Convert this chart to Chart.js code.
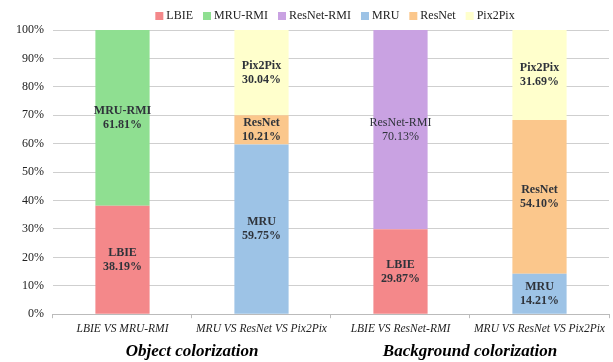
<!DOCTYPE html>
<html>
<head>
<meta charset="utf-8">
<script src="https://cdn.jsdelivr.net/npm/chart.js@4.4.0/dist/chart.umd.min.js"></script>
<style>
  html, body { margin: 0; padding: 0; background: #fff; }
  #wrap { width: 613px; height: 362px; }
</style>
</head>
<body>
<div id="wrap"><canvas id="chart"></canvas></div>
<script>
// categories and group captions
const categories = ['LBIE VS MRU-RMI', 'MRU VS ResNet VS Pix2Pix', 'LBIE VS ResNet-RMI', 'MRU VS ResNet VS Pix2Pix'];
const groups = ['Object colorization', 'Background colorization'];

// percentages per method (0 = not in that comparison)
const lbie      = [38.19, 0, 29.87, 0];
const mruRmi    = [61.81, 0, 0, 0];
const resnetRmi = [0, 0, 70.13, 0];
const mru       = [0, 59.75, 0, 14.21];
const resnet    = [0, 10.21, 0, 54.10];
const pix2pix   = [0, 30.04, 0, 31.69];

const yTicks = [0, 10, 20, 30, 40, 50, 60, 70, 80, 90, 100];

const serif = '"Liberation Serif", "Times New Roman", serif';

function ds(label, data, color) {
  return { label: label, data: data, backgroundColor: color, borderWidth: 0 };
}

// value labels inside each segment
const barLabels = {
  id: 'barLabels',
  afterDatasetsDraw(chart) {
    const ctx = chart.ctx;
    ctx.save();
    ctx.textAlign = 'center';
    ctx.textBaseline = 'middle';
    ctx.fillStyle = '#2f333a';
    chart.data.datasets.forEach((d, i) => {
      const meta = chart.getDatasetMeta(i);
      meta.data.forEach((bar, j) => {
        const v = d.data[j];
        if (!v) return;
        const cy = (bar.y + bar.base) / 2;
        ctx.font = (d.label === 'ResNet-RMI' ? '' : 'bold ') + '12px ' + serif;
        ctx.fillText(d.label, bar.x, cy - 7);
        ctx.fillText(v.toFixed(2) + '%', bar.x, cy + 7);
      });
    });
    ctx.restore();
  }
};

// legend centred over the plot area (compact spacing)
const topLegend = {
  id: 'topLegend',
  afterDraw(chart) {
    const ctx = chart.ctx;
    const area = chart.chartArea;
    ctx.save();
    ctx.font = '12px ' + serif;
    ctx.textBaseline = 'middle';
    const items = chart.data.datasets.map(d => ({ label: d.label, color: d.backgroundColor, w: ctx.measureText(d.label).width }));
    const total = items.reduce((s, it) => s + 8 + 3 + it.w, 0) + 10 * (items.length - 1);
    let x = (area.left + area.right) / 2 + 4 - total / 2;
    const y = 16;
    items.forEach(it => {
      ctx.fillStyle = it.color;
      ctx.fillRect(x, y - 4, 8, 8);
      ctx.fillStyle = '#222';
      ctx.fillText(it.label, x + 11, y);
      x += 11 + it.w + 10;
    });
    ctx.restore();
  }
};

const groupLabels = {
  id: 'groupLabels',
  afterDraw(chart) {
    const ctx = chart.ctx;
    const x = chart.scales.x;
    ctx.save();
    ctx.textAlign = 'center';
    ctx.textBaseline = 'middle';
    ctx.fillStyle = '#000';
    ctx.font = 'italic bold 17px ' + serif;
    groups.forEach((g, k) => {
      const cx = (x.getPixelForValue(k * 2) + x.getPixelForValue(k * 2 + 1)) / 2;
      ctx.fillText(g, cx, 352);
    });
    ctx.restore();
  }
};

new Chart(document.getElementById('chart').getContext('2d'), {
  type: 'bar',
  data: {
    labels: categories,
    datasets: [
      ds('LBIE', lbie, '#f4888a'),
      ds('MRU-RMI', mruRmi, '#8fdf91'),
      ds('ResNet-RMI', resnetRmi, '#c9a2e2'),
      ds('MRU', mru, '#9dc3e6'),
      ds('ResNet', resnet, '#fbc78c'),
      ds('Pix2Pix', pix2pix, '#ffffcc')
    ]
  },
  options: {
    responsive: true,
    maintainAspectRatio: false,
    animation: false,
    datasets: { bar: { categoryPercentage: 1, barPercentage: 0.39 } },
    layout: { padding: { left: 7, right: 4, top: 30, bottom: 22 } },
    plugins: {
      legend: { display: false },
      tooltip: { enabled: false }
    },
    scales: {
      x: {
        stacked: true,
        grid: { display: true, drawOnChartArea: false, offset: true, tickLength: 4, color: '#bbb' },
        border: { color: '#bbb' },
        ticks: { color: '#222', font: { family: serif, size: 11.5, style: 'italic' }, padding: 4 }
      },
      y: {
        stacked: true,
        min: 0,
        max: 100,
        afterBuildTicks: axis => { axis.ticks = yTicks.map(v => ({ value: v })); },
        grid: { color: '#cfcfcf', drawTicks: false },
        border: { display: false },
        ticks: { color: '#222', padding: 9, font: { family: serif, size: 12 }, callback: v => v + '%' }
      }
    }
  },
  plugins: [barLabels, topLegend, groupLabels]
});
</script>
</body>
</html>
